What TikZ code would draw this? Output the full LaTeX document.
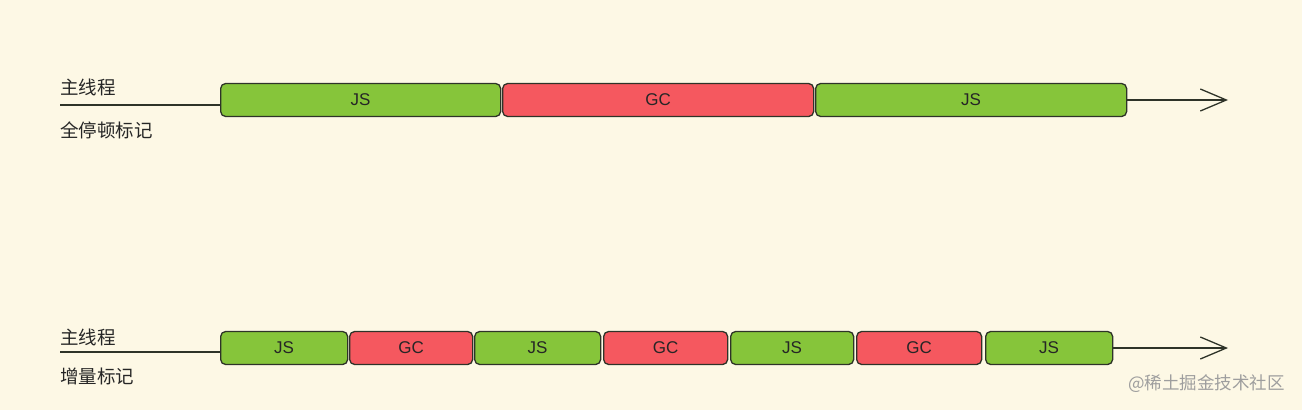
\documentclass[tikz,border=0pt]{standalone}
\usepackage{fontspec}
\setmainfont{Liberation Sans}
\newfontfamily\cjk{Noto Sans CJK SC}
\usetikzlibrary{arrows.meta,positioning}
\definecolor{paper}{HTML}{FDF8E5}
\definecolor{jsgreen}{HTML}{86C53A}
\definecolor{gcred}{HTML}{F5585F}
\definecolor{ink}{HTML}{2E3328}

\begin{document}
\begin{tikzpicture}[x=1pt,y=-1pt,
    slice/.style={draw=ink, line width=1.3pt, rounded corners=5pt,
        minimum height=33pt, inner sep=0pt, anchor=west,
        font=\fontsize{17}{20}\selectfont, text=black!85},
    js/.style={slice, fill=jsgreen},
    gc/.style={slice, fill=gcred},
    tag/.style={anchor=west, inner sep=0pt, font=\cjk\fontsize{18.5}{22}\selectfont, text=black!85},
    axis/.style={draw=ink, line width=1.2pt}]
    \fill[paper] (0,0) rectangle (1302,410);
    \useasboundingbox (0,0) rectangle (1302,410);
    % top: full pause
    \node[tag] (main1) at (60,87) {主线程};
    \node[tag] (full) at (60,130) {全停顿标记};
    \coordinate (s1) at (60,105);
    \coordinate (e1) at (1228,100);
    \node[js, minimum width=280pt] (a1) at (220,100) {JS};
    \node[gc, minimum width=311pt] (a2) at (502,100) {GC};
    \node[js, minimum width=311pt] (a3) at (815,100) {JS};
    \draw[axis] (s1) -- (s1 -| a1.west);
    \draw[axis, -{Straight Barb[length=26pt,width=22pt,line width=1.3pt]}] (a3.east) -- (e1);
    % bottom: incremental
    \node[tag] (main2) at (60,337) {主线程};
    \node[tag] (incr) at (60,376) {增量标记};
    \coordinate (s2) at (60,352);
    \coordinate (e2) at (1228,348);
    \node[js, minimum width=127pt] (b1) at (220,348) {JS};
    \node[gc, minimum width=123pt] (b2) at (349,348) {GC};
    \node[js, minimum width=126pt] (b3) at (474,348) {JS};
    \node[gc, minimum width=124pt] (b4) at (603,348) {GC};
    \node[js, minimum width=123pt] (b5) at (730,348) {JS};
    \node[gc, minimum width=125pt] (b6) at (856,348) {GC};
    \node[js, minimum width=127pt] (b7) at (985,348) {JS};
    \draw[axis] (s2) -- (s2 -| b1.west);
    \draw[axis, -{Straight Barb[length=26pt,width=22pt,line width=1.3pt]}] (b7.east) -- (e2);
    \node[anchor=west, inner sep=0pt, text=black!38, font=\cjk\fontsize{17.5}{20}\selectfont] (mark) at (1128,384) {@稀土掘金技术社区};
\end{tikzpicture}
\end{document}
